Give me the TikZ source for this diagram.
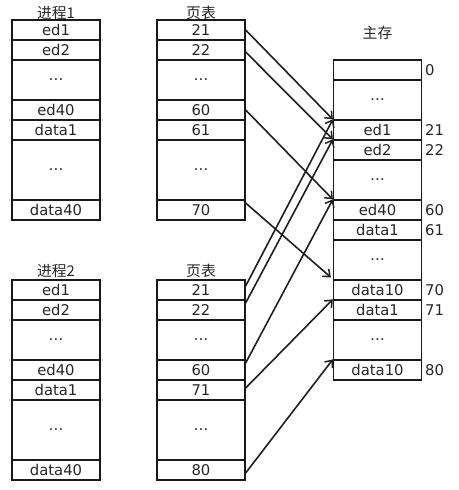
\documentclass[tikz,border=0pt]{standalone}
\usepackage{fontspec}
\setmainfont{DejaVu Sans}
\newfontfamily\cjk{Noto Sans CJK SC}
\usetikzlibrary{arrows.meta,calc}
\begin{document}
\begin{tikzpicture}[x=1pt,y=-1pt,
  every node/.style={text=black!85,font=\fontsize{14.8}{17}\selectfont},
  cell/.style={draw=black!90,line width=1.3pt,minimum width=88pt,inner sep=0pt,minimum height=20pt},
  tallcell/.style={cell,minimum height=40pt},
  hugecell/.style={cell,minimum height=60pt},
  title/.style={inner sep=0pt,font=\cjk\fontsize{14.8}{17}\selectfont},
  addr/.style={anchor=west,inner sep=0pt},
  link/.style={draw=black!88,line width=1.6pt,-{Straight Barb[length=6pt,width=10pt,line width=1.5pt]}}
]
\useasboundingbox (0,0) rectangle (458,490);
% process 1
\node[title] (p1t) at (56,13) {进程1};
\node[cell] (p1a) at (56,30) {ed1};
\node[cell] (p1b) at (56,50) {ed2};
\node[tallcell] (p1c) at (56,80) {…};
\node[cell] (p1d) at (56,110) {ed40};
\node[cell] (p1e) at (56,130) {data1};
\node[hugecell] (p1f) at (56,170) {…};
\node[cell] (p1g) at (56,210) {data40};
% page table 1
\node[title] (t1t) at (201,13) {页表};
\node[cell] (t1a) at (201,30) {21};
\node[cell] (t1b) at (201,50) {22};
\node[tallcell] (t1c) at (201,80) {…};
\node[cell] (t1d) at (201,110) {60};
\node[cell] (t1e) at (201,130) {61};
\node[hugecell] (t1f) at (201,170) {…};
\node[cell] (t1g) at (201,210) {70};
% process 2
\node[title] (p2t) at (56,271) {进程2};
\node[cell] (p2a) at (56,290) {ed1};
\node[cell] (p2b) at (56,310) {ed2};
\node[tallcell] (p2c) at (56,340) {…};
\node[cell] (p2d) at (56,370) {ed40};
\node[cell] (p2e) at (56,390) {data1};
\node[hugecell] (p2f) at (56,430) {…};
\node[cell] (p2g) at (56,470) {data40};
% page table 2
\node[title] (t2t) at (201,271) {页表};
\node[cell] (t2a) at (201,290) {21};
\node[cell] (t2b) at (201,310) {22};
\node[tallcell] (t2c) at (201,340) {…};
\node[cell] (t2d) at (201,370) {60};
\node[cell] (t2e) at (201,390) {71};
\node[hugecell] (t2f) at (201,430) {…};
\node[cell] (t2g) at (201,470) {80};
% main memory
\node[title] (mt) at (377.5,33) {主存};
\node[cell] (m0) at (377.5,70) {};
\node[tallcell] (m1) at (377.5,100) {…};
\node[cell] (m2) at (377.5,130) {ed1};
\node[cell] (m3) at (377.5,150) {ed2};
\node[tallcell] (m4) at (377.5,180) {…};
\node[cell] (m5) at (377.5,210) {ed40};
\node[cell] (m6) at (377.5,230) {data1};
\node[tallcell] (m7) at (377.5,260) {…};
\node[cell] (m8) at (377.5,290) {data10};
\node[cell] (m9) at (377.5,310) {data1};
\node[tallcell] (m10) at (377.5,340) {…};
\node[cell] (m11) at (377.5,370) {data10};
% addresses
\node[addr] (a0) at (425,70) {0};
\node[addr] (a21) at (425,130) {21};
\node[addr] (a22) at (425,150) {22};
\node[addr] (a60) at (425,210) {60};
\node[addr] (a61) at (425,230) {61};
\node[addr] (a70) at (425,290) {70};
\node[addr] (a71) at (425,310) {71};
\node[addr] (a80) at (425,370) {80};
% links from page table 1
\draw[link] (t1a.east) -- (m2.north west);
\draw[link] ([yshift=-2pt]t1b.east) -- (m3.north west);
\draw[link] (t1d.east) -- (m5.north west);
\draw[link] ([yshift=7pt]t1g.east) -- ([xshift=-2pt,yshift=2pt]m8.north west);
% links from page table 2
\draw[link] ([yshift=4pt]t2a.east) -- (m2.north west);
\draw[link] ([yshift=7pt]t2b.east) -- (m3.north west);
\draw[link] ([yshift=7pt]t2d.east) -- (m5.north west);
\draw[link] ([yshift=2pt]t2e.east) -- (m9.north west);
\draw[link] ([yshift=-3pt]t2g.east) -- (m11.north west);
\end{tikzpicture}
\end{document}
